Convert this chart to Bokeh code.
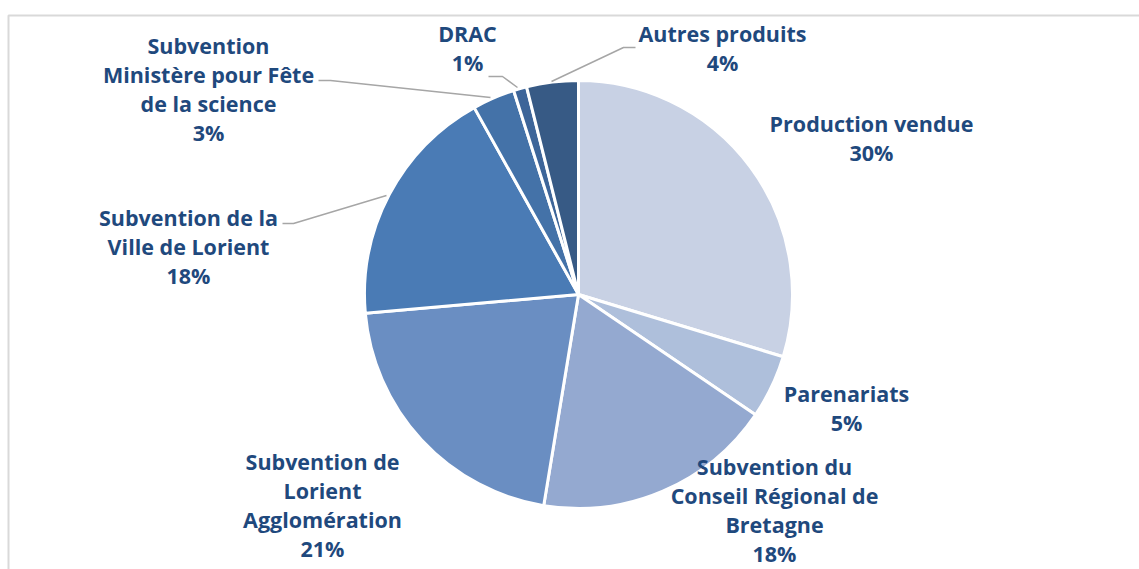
from bokeh.plotting import figure
from bokeh.models import Range1d, ColumnDataSource
from bokeh.core.properties import value
from bokeh.embed import file_html
from bokeh.resources import INLINE
import math

# ---- data (clockwise from 12 o'clock) ----
categories = [
    "Production vendue",
    "Parenariats",
    "Subvention du\nConseil Régional de\nBretagne",
    "Subvention de\nLorient\nAgglomération",
    "Subvention de la\nVille de Lorient",
    "Subvention\nMinistère pour Fête\nde la science",
    "DRAC",
    "Autres produits",
]
shares = [29.7, 4.8, 18.1, 21.0, 18.3, 3.2, 1.0, 3.9]
colors = ["#C8D1E4", "#AEBFDB", "#94A9D0", "#6A8EC2", "#4A7BB5", "#4472A8", "#3D6599", "#375A85"]

# ---- layout (picture pixel coordinates) ----
W, H = 1139, 569
CX, CY, R = 578, 294, 214
label_pos = [  # centre x, y of first line
    (871, 123),
    (846, 393),
    (774, 466),
    (322, 461),
    (188, 217),
    (208, 45),
    (467, 33),
    (722, 33),
]
LINE_H = 29.0
leaders = [
    None, None, None, None,
    [(282, 223), (293, 223), (386, 195)],
    [(318, 80), (330, 80), (490, 97)],
    [(488, 76), (502, 76), (517, 87)],
    [(635, 47), (623, 47), (551, 81)],
]

p = figure(width=W, height=H, output_backend="svg", toolbar_location=None,
           x_range=Range1d(0, W), y_range=Range1d(-H, 0),
           min_border=0)
p.xaxis.visible = False
p.yaxis.visible = False
p.grid.visible = False
p.outline_line_color = None
p.background_fill_color = "white"
p.border_fill_color = "white"

# frame lines of the original chart area
p.line(x=[8, 8, W], y=[-H, -15, -15], line_color="#D9D9D9", line_width=2)

total = sum(shares)
starts, ends = [], []
cum = 0.0
for s in shares:
    a0 = math.pi / 2 - 2 * math.pi * cum / total
    cum += s
    a1 = math.pi / 2 - 2 * math.pi * cum / total
    starts.append(a0)
    ends.append(a1)

src = ColumnDataSource(dict(x=[CX] * len(shares), y=[-CY] * len(shares),
                            start=starts, end=ends, color=colors))
p.wedge(x="x", y="y", radius=R, start_angle="start", end_angle="end",
        direction="clock", fill_color="color", line_color="white", line_width=3,
        source=src)

for pts in leaders:
    if pts:
        p.line(x=[q[0] for q in pts], y=[-q[1] for q in pts], line_color="#A6A6A6", line_width=1.5)

tx, ty, tt = [], [], []
for name, s, (lx, ly) in zip(categories, shares, label_pos):
    lines = name.split("\n") + [f"{round(s)}%"]
    for i, ln in enumerate(lines):
        tx.append(lx)
        ty.append(-(ly + i * LINE_H))
        tt.append(ln)

p.text(x=tx, y=ty, text=tt, text_font=value("Open Sans"), text_font_style="bold",
       text_font_size="21.5px", text_color="#1F497D", text_align="center",
       text_baseline="middle")

open("out.html", "w").write(file_html(p, INLINE))
